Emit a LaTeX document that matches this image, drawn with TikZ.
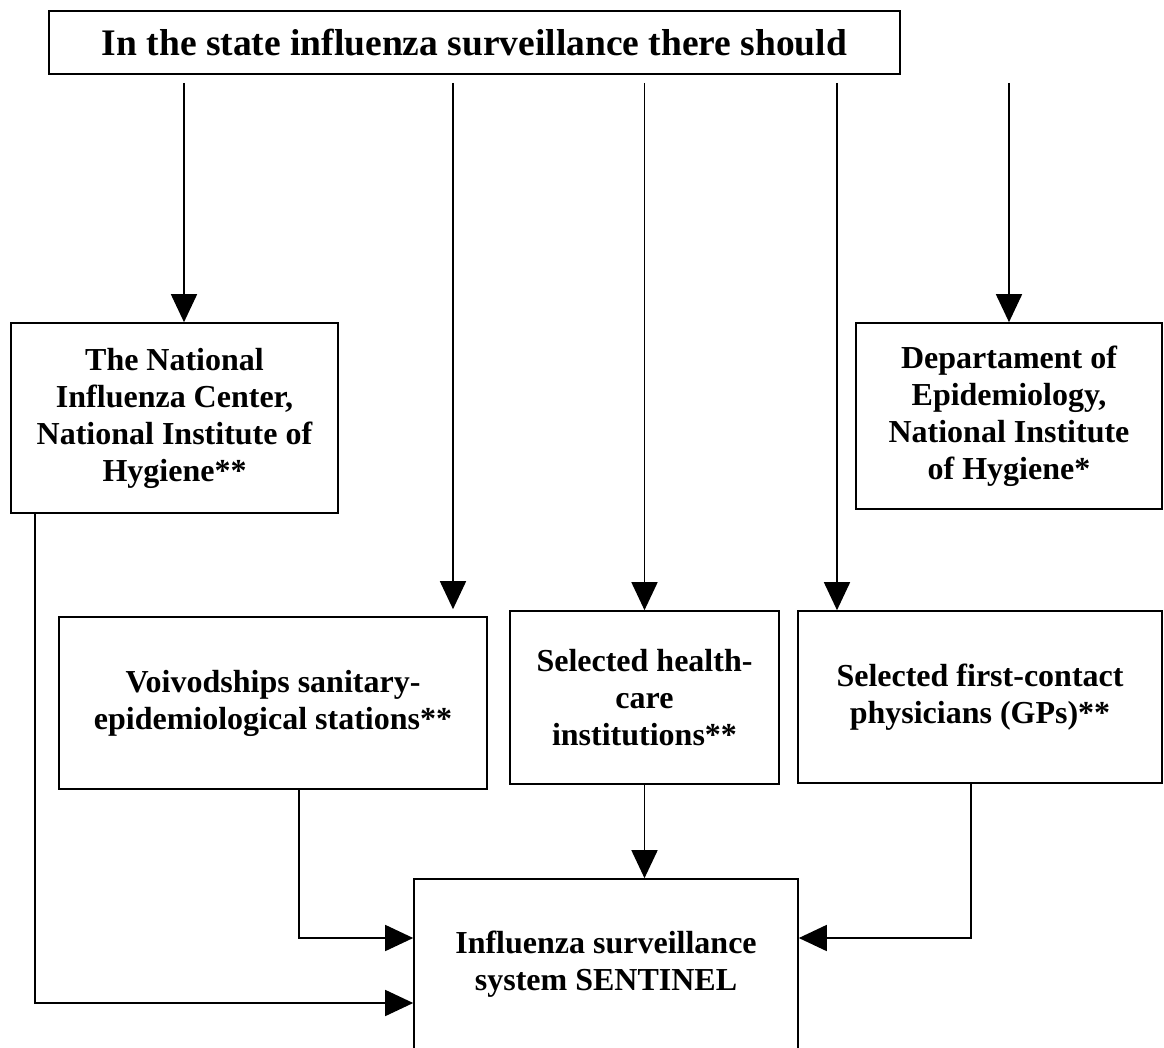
\documentclass[tikz,border=0pt]{standalone}
\usepackage{fontspec}
\setmainfont{Liberation Serif}
\usetikzlibrary{arrows.meta}
\usetikzlibrary{calc}

\begin{document}
\begin{tikzpicture}[->,>={Triangle[length=28pt,width=26pt]},x=1pt,y=-1pt,line width=1.6pt]
	\tikzstyle{box}=[draw=black, rectangle, align=center, inner sep=0pt, font=\bfseries\fontsize{32}{37}\selectfont]
	\useasboundingbox (0,0) rectangle (1164,1048);
		\node[box, minimum width=851pt, minimum height=63pt, font=\bfseries\fontsize{37.5}{46}\selectfont]
			(top) at (474.5,42.5) {In the state influenza surveillance there should};
		\node[box, minimum width=327pt, minimum height=190pt] (nic) at (174.5,418) {The National\\Influenza Center,\\National Institute of\\Hygiene**};
		\node[box, minimum width=306pt, minimum height=186pt] (dep) at (1009,416) {Departament of\\Epidemiology,\\National Institute\\of Hygiene*};
		\node[box, minimum width=428pt, minimum height=172pt] (vs) at (273,703) {Voivodships sanitary-\\epidemiological stations**};
		\node[box, minimum width=269pt, minimum height=173pt] (hc) at (644.5,697.5) {Selected health-\\care\\institutions**};
		\node[box, minimum width=364pt, minimum height=172pt] (fc) at (980,697) {Selected first-contact\\physicians (GPs)**};
		\node[box, minimum width=384pt, minimum height=171pt] (sen) at (606,964.5) {Influenza surveillance\\system SENTINEL};
	\path
		(top.south -| 184,0) edge [shorten <=8pt] (nic.north -| 184,0)
		(top.south -| 453,0) edge [shorten <=8pt, shorten >=7pt] (vs.north -| 453,0)
		(top.south -| hc.north) edge [shorten <=8pt] (hc.north)
		(top.south -| 837,0) edge [shorten <=8pt] (fc.north -| 837,0)
		(top.south -| dep.north) edge [shorten <=8pt] (dep.north)
		(hc.south) edge (sen.north -| hc.south);
	\draw (nic.south -| 35,0) |- (sen.west |- 0,1003);
	\draw (vs.south -| 299,0) |- (sen.west |- 0,938);
	\draw (fc.south -| 971,0) |- (sen.east |- 0,938);
\end{tikzpicture}
\end{document}
